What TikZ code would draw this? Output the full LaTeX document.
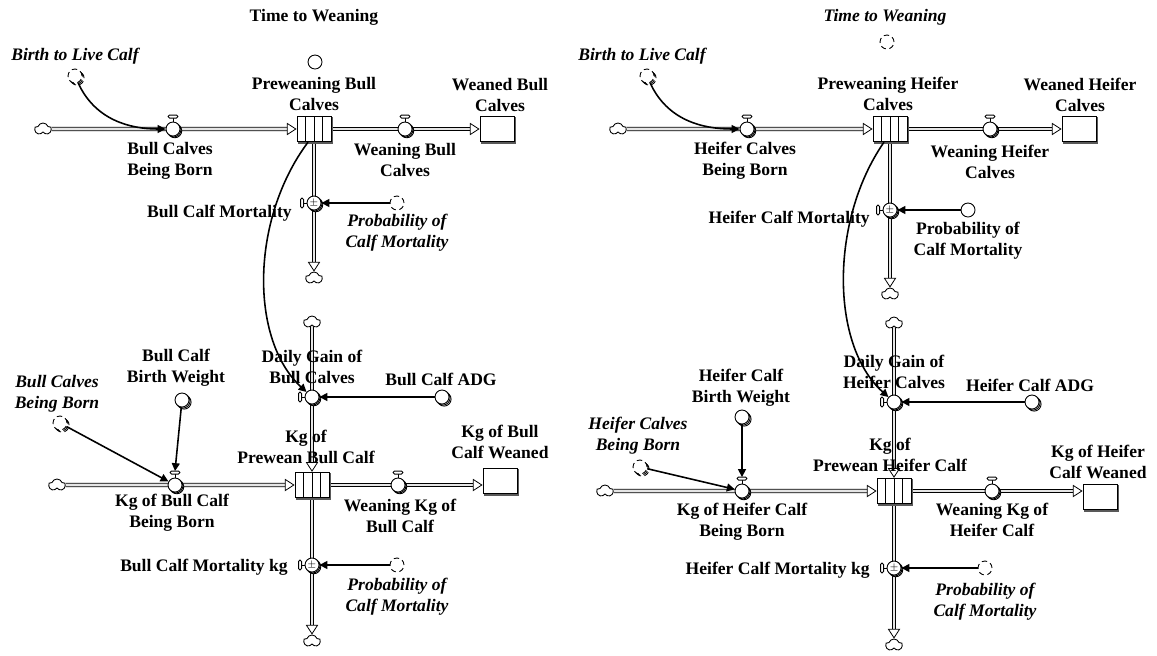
\documentclass[tikz,border=0pt]{standalone}
\usepackage{fontspec}
\setmainfont{Liberation Serif}
\usetikzlibrary{arrows.meta,shapes.symbols,shadows,backgrounds}

\tikzset{
  lab/.style={font=\bfseries\fontsize{10}{12}\selectfont, align=center, inner sep=0pt},
  ilab/.style={lab, font=\bfseries\itshape\fontsize{10}{12}\selectfont},
  sink/.style={cloud, cloud puffs=5, cloud puff arc=140, aspect=1.5, draw, fill=white, minimum width=3.3mm, minimum height=2.4mm, inner sep=0pt, line width=0.5pt},
  valve/.style={circle, draw, fill=white, minimum size=2.8mm, inner sep=0pt, line width=0.5pt,
    double copy shadow={shadow xshift=0.5pt, shadow yshift=-0.5pt, draw=black, fill=white}},
  conv/.style={circle, draw, fill=white, minimum size=2.8mm, inner sep=0pt, line width=0.5pt},
  convs/.style={conv, double copy shadow={shadow xshift=0.6pt, shadow yshift=-0.6pt, draw=black, fill=white}},
  ghost/.style={conv, densely dashed},
  ghosts/.style={ghost, double copy shadow={shadow xshift=0.6pt, shadow yshift=-0.6pt, draw=black, fill=white, densely dashed}},
  stock/.style={rectangle, draw, fill=white, minimum width=6.8mm, minimum height=5.1mm, inner sep=0pt, line width=0.5pt,
    copy shadow={shadow xshift=0.8pt, shadow yshift=-0.8pt, fill=black!65, draw=black!65}},
  belt/.style={stock, path picture={
    \foreach \k in {1,2,3}
      \draw[line width=0.5pt] ([xshift=\k*1.7mm]path picture bounding box.south west) -- ([xshift=\k*1.7mm]path picture bounding box.north west);}},
  pipe/.style={draw=black, line width=0.45pt, double=gray!20, double distance=1.6pt},
  flow/.style={pipe, -{Triangle[open, length=5.5pt, width=7pt]}},
  link/.style={line width=0.9pt, -{Triangle[length=4.5pt, width=4.5pt]}},
}

% valve handles
\newcommand{\handleup}[1]{%
  \draw[line width=0.5pt] (#1.north) -- ([yshift=0.7mm]#1.north);
  \draw[line width=0.5pt, fill=white, rounded corners=0.3mm] ([xshift=-1mm,yshift=0.7mm]#1.north) rectangle ([xshift=1mm,yshift=1.3mm]#1.north);}
\newcommand{\handleleft}[1]{%
  \draw[line width=0.5pt] (#1.west) -- ([xshift=-0.6mm]#1.west);
  \draw[line width=0.5pt, fill=white, rounded corners=0.3mm] ([xshift=-0.6mm,yshift=-1mm]#1.west) rectangle ([xshift=-1.2mm,yshift=1mm]#1.west);}

\begin{document}
\begin{tikzpicture}[x=0.02cm, y=-0.02cm]
\useasboundingbox (0,0) rectangle (1157,656);

% ---- bull calves
\node[lab] (twL) at (314,17) {Time to Weaning};
\node[conv] (ctwL) at (315,62) {};
\node[ilab] (blL) at (75,56) {Birth to Live Calf};
\node[ghosts] (cblL) at (75,76) {};

\node[sink] (srcA) at (43,129) {};
\node[valve] (vBorn) at (173,129) {};
\node[lab] (lBorn) at (170,161) {Bull Calves\\Being Born};
\node[stock, belt] (sPre) at (314,129) {};
\node[lab] (lPre) at (314,94) {Preweaning Bull\\Calves};
\node[valve] (vWean) at (405,129) {};
\node[lab] (lWean) at (405,160) {Weaning Bull\\Calves};
\node[stock] (sWnd) at (497,129) {};
\node[lab] (lWnd) at (500,95) {Weaned Bull\\Calves};
\node[valve] (vMort) at (314,203) {\tiny$\pm$};
\node[lab, anchor=east] (lMort) at (292,213) {Bull Calf Mortality};
\node[ghost] (cPmA) at (397,203) {};
\node[ilab] (lPmA) at (397,233) {Probability of\\Calf Mortality};
\node[sink] (snkA) at (314,278) {};

\node[sink] (srcB) at (312,322) {};
\node[valve] (vGain) at (312,397) {};
\node[lab] (lGain) at (312,367) {Daily Gain of\\Bull Calves};
\node[convs] (cAdg) at (442,397) {};
\node[lab] (lAdg) at (441,379) {Bull Calf ADG};
\node[convs] (cBw) at (182,400) {};
\node[lab] (lBw) at (176,368) {Bull Calf\\Birth Weight};
\node[ghosts] (cBcb) at (60,423) {};
\node[ilab] (lBcb) at (57,394) {Bull Calves\\Being Born};
\node[sink] (srcC) at (57,485) {};
\node[valve] (vKgBorn) at (175,485) {};
\node[lab] (lKgBorn) at (172,513) {Kg of Bull Calf\\Being Born};
\node[stock, belt] (sKg) at (312,485) {};
\node[lab] (lKg) at (306,447) {Kg of\\Prewean Bull Calf};
\node[valve] (vWkg) at (398,485) {};
\node[lab] (lWkg) at (400,516) {Weaning Kg of\\Bull Calf};
\node[stock] (sKgw) at (500,481) {};
\node[lab] (lKgw) at (500,442) {Kg of Bull\\Calf Weaned};
\node[valve] (vMkg) at (312,565) {\tiny$\pm$};
\node[lab, anchor=east] (lMkg) at (288,567) {Bull Calf Mortality kg};
\node[ghost] (cPmB) at (397,565) {};
\node[ilab] (lPmB) at (397,597) {Probability of\\Calf Mortality};
\node[sink] (snkB) at (312,641) {};

% ---- heifer calves
\node[ilab] (twR) at (885,17) {Time to Weaning};
\node[ghost] (ctwR) at (887,42) {};
\node[ilab] (blR) at (642,56) {Birth to Live Calf};
\node[ghosts] (cblR) at (647,76) {};

\node[sink] (srcD) at (618,129) {};
\node[valve] (vHBorn) at (747,129) {};
\node[lab] (lHBorn) at (745,161) {Heifer Calves\\Being Born};
\node[stock, belt] (sHPre) at (890,129) {};
\node[lab] (lHPre) at (888,94) {Preweaning Heifer\\Calves};
\node[valve] (vHWean) at (990,129) {};
\node[lab] (lHWean) at (990,162) {Weaning Heifer\\Calves};
\node[stock] (sHWnd) at (1079,129) {};
\node[lab] (lHWnd) at (1080,95) {Weaned Heifer\\Calves};
\node[valve] (vHMort) at (890,210) {\tiny$\pm$};
\node[lab, anchor=east] (lHMort) at (870,219) {Heifer Calf Mortality};
\node[conv] (cPmC) at (968,210) {};
\node[lab] (lPmC) at (968,241) {Probability of\\Calf Mortality};
\node[sink] (snkC) at (890,294) {};

\node[sink] (srcE) at (894,323) {};
\node[valve] (vHGain) at (894,402) {};
\node[lab] (lHGain) at (894,372) {Daily Gain of\\Heifer Calves};
\node[convs] (cHAdg) at (1032,402) {};
\node[lab] (lHAdg) at (1030,385) {Heifer Calf ADG};
\node[convs] (cHBw) at (742,417) {};
\node[lab] (lHBw) at (741,388) {Heifer Calf\\Birth Weight};
\node[ghosts] (cHcb) at (640,467) {};
\node[ilab] (lHcb) at (638,436) {Heifer Calves\\Being Born};
\node[sink] (srcF) at (605,491) {};
\node[valve] (vHKgBorn) at (742,491) {};
\node[lab] (lHKgBorn) at (742,522) {Kg of Heifer Calf\\Being Born};
\node[stock, belt] (sHKg) at (894,491) {};
\node[lab] (lHKg) at (890,455) {Kg of\\Prewean Heifer Calf};
\node[valve] (vHWkg) at (992,491) {};
\node[lab] (lHWkg) at (992,520) {Weaning Kg of\\Heifer Calf};
\node[stock] (sHKgw) at (1100,497) {};
\node[lab] (lHKgw) at (1098,462) {Kg of Heifer\\Calf Weaned};
\node[valve] (vHMkg) at (894,568) {\tiny$\pm$};
\node[lab, anchor=east] (lHMkg) at (870,570) {Heifer Calf Mortality kg};
\node[ghost] (cPmD) at (985,568) {};
\node[ilab] (lPmD) at (985,602) {Probability of\\Calf Mortality};
\node[sink] (snkD) at (894,645) {};

\foreach \v in {vBorn,vWean,vKgBorn,vWkg,vHBorn,vHWean,vHKgBorn,vHWkg} {\handleup{\v}}
\foreach \v in {vMort,vGain,vMkg,vHMort,vHGain,vHMkg} {\handleleft{\v}}

% pipes
\begin{pgfonlayer}{background}
\draw[flow] (srcA) -- (sPre);
\draw[flow] (sPre) -- (sWnd);
\draw[flow] (sPre) -- (snkA);
\draw[flow] (srcB) -- (sKg);
\draw[flow] (srcC) -- (sKg);
\draw[flow] (sKg.east) -- (sKgw.west |- sKg.east);
\draw[flow] (sKg) -- (snkB);
\draw[flow] (srcD) -- (sHPre);
\draw[flow] (sHPre) -- (sHWnd);
\draw[flow] (sHPre) -- (snkC);
\draw[flow] (srcE) -- (sHKg);
\draw[flow] (srcF) -- (sHKg);
\draw[flow] (sHKg.east) -- (sHKgw.west |- sHKg.east);
\draw[flow] (sHKg) -- (snkD);
\end{pgfonlayer}

% links
\draw[link] (cblL) .. controls (95,120) and (130,129) .. (vBorn);
\draw[link] (cPmA) -- (vMort);
\draw[link] ([xshift=-1.2mm]sPre.south) .. controls (250,220) and (250,340) .. (vGain);
\draw[link] (cAdg) -- (vGain);
\draw[link] (cBw) -- ([yshift=1.3mm]vKgBorn.north);
\draw[link] (cBcb) -- (vKgBorn);
\draw[link] (cPmB) -- (vMkg);

\draw[link] (cblR) .. controls (667,120) and (702,129) .. (vHBorn);
\draw[link] (cPmC) -- (vHMort);
\draw[link] ([xshift=-1.2mm]sHPre.south) .. controls (830,220) and (830,345) .. (vHGain);
\draw[link] (cHAdg) -- (vHGain);
\draw[link] (cHBw) -- ([yshift=1.3mm]vHKgBorn.north);
\draw[link] (cHcb) -- (vHKgBorn);
\draw[link] (cPmD) -- (vHMkg);
\end{tikzpicture}
\end{document}
